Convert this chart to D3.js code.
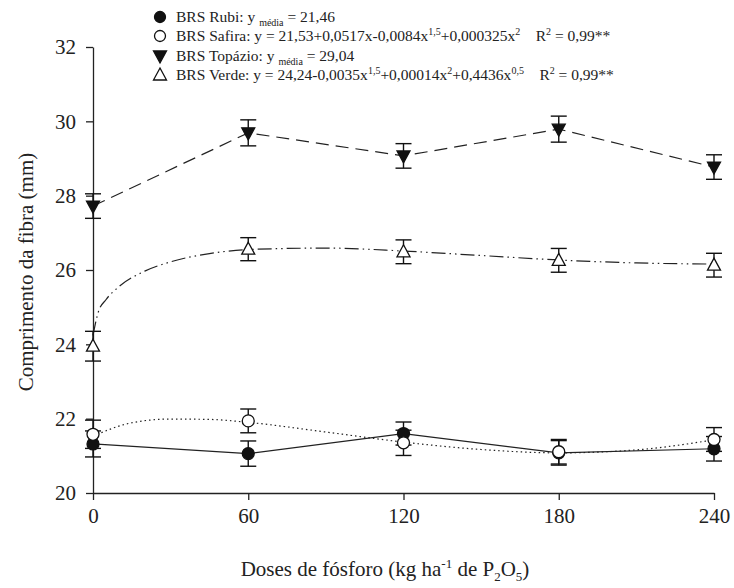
<!DOCTYPE html>
<html>
<head>
<meta charset="utf-8">
<script src="https://cdn.jsdelivr.net/npm/d3@7"></script>
</head>
<body style="margin:0">
<svg id="chart" width="734" height="588"></svg>
<script>
// doses de fosforo
var doses = [0, 60, 120, 180, 240];

// medias observadas
var rubi = [21.32, 21.06, 21.60, 21.08, 21.19];
var rubiErr = [0.35, 0.34, 0.31, 0.33, 0.33];
var safira = [21.58, 21.94, 21.35, 21.11, 21.44];
var safiraErr = [0.38, 0.32, 0.34, 0.33, 0.32];
var topazio = [27.72, 29.69, 29.07, 29.79, 28.77];
var topazioErr = [0.33, 0.35, 0.33, 0.35, 0.33];
var verde = [23.95, 26.56, 26.49, 26.26, 26.13];
var verdeErr = [0.4, 0.31, 0.32, 0.32, 0.32];

// curvas ajustadas
var safiraFitX = [0, 15, 30, 45, 60, 90, 120, 150, 180, 210, 240];
var safiraFit = [21.53, 21.89, 21.99, 21.98, 21.90, 21.64, 21.37, 21.17, 21.08, 21.16, 21.43];
var verdeFitX = [0, 2, 5, 10, 20, 30, 45, 60, 90, 120, 150, 180, 210, 240];
var verdeFit = [24.24, 24.86, 25.20, 25.55, 25.97, 26.22, 26.44, 26.55, 26.59, 26.51, 26.39, 26.27, 26.19, 26.16];

var xTicks = [0, 60, 120, 180, 240];
var yTicks = [20, 22, 24, 26, 28, 30, 32];

var FONT = "Liberation Serif";
var svg = d3.select("#chart");
var left = 93, right = 714, topY = 47, bottom = 493;

var x = d3.scaleLinear().domain([0, 240]).range([left, right]);
var y = d3.scaleLinear().domain([20, 32]).range([bottom, topY]);

// eixos
var xAxis = svg.append("g")
    .attr("transform", "translate(0," + bottom + ")")
    .call(d3.axisBottom(x).tickValues(xTicks).tickSize(7).tickPadding(8).tickSizeOuter(0));
var yAxis = svg.append("g")
    .attr("transform", "translate(" + left + ",0)")
    .call(d3.axisLeft(y).tickValues(yTicks).tickSize(7).tickPadding(10).tickSizeOuter(0));

[xAxis, yAxis].forEach(function (g) {
    g.attr("font-family", FONT).attr("font-size", 21);
    g.select(".domain").attr("stroke", "#222").attr("stroke-width", 1.3);
    g.selectAll(".tick line").attr("stroke", "#222").attr("stroke-width", 1.3);
    g.selectAll(".tick text").attr("fill", "#222");
});

// titulos
svg.append("text")
    .attr("transform", "translate(33,272) rotate(-90)")
    .attr("text-anchor", "middle")
    .attr("fill", "#222")
    .attr("font-size", 21)
    .text("Comprimento da fibra (mm)");

var xt = svg.append("text")
    .attr("x", 385)
    .attr("y", 576)
    .attr("text-anchor", "middle")
    .attr("fill", "#222")
    .attr("font-size", 21);
xt.append("tspan").text("Doses de fósforo (kg ha");
xt.append("tspan").attr("dy", -8).attr("font-size", 13).text("-1");
xt.append("tspan").attr("dy", 8).text(" de P");
xt.append("tspan").attr("dy", 5).attr("font-size", 13).text("2");
xt.append("tspan").attr("dy", -5).text("O");
xt.append("tspan").attr("dy", 5).attr("font-size", 13).text("5");
xt.append("tspan").attr("dy", -5).text(")");

// linhas
var pts = function (xs, ys) {
    return xs.map(function (d, i) { return [d, ys[i]]; });
};
var straight = d3.line()
    .x(function (d) { return x(d[0]); })
    .y(function (d) { return y(d[1]); });
var smooth = d3.line()
    .curve(d3.curveMonotoneX)
    .x(function (d) { return x(d[0]); })
    .y(function (d) { return y(d[1]); });

var lines = [
    { path: straight(pts(doses, rubi)), dash: null },
    { path: smooth(pts(safiraFitX, safiraFit)), dash: "1.5,3" },
    { path: straight(pts(doses, topazio)), dash: "13,7" },
    { path: smooth(pts(verdeFitX, verdeFit)), dash: "14,4,1.5,4,1.5,4" }
];
svg.selectAll("path.fit")
    .data(lines)
    .enter()
    .append("path")
    .attr("class", "fit")
    .attr("d", function (d) { return d.path; })
    .attr("fill", "none")
    .attr("stroke", "#222")
    .attr("stroke-width", 1.2)
    .attr("stroke-dasharray", function (d) { return d.dash; });

// series com barras de erro e marcadores
var series = [
    { vals: rubi, err: rubiErr, shape: "circle", fill: "#111" },
    { vals: safira, err: safiraErr, shape: "circle", fill: "white" },
    { vals: topazio, err: topazioErr, shape: "down", fill: "#111" },
    { vals: verde, err: verdeErr, shape: "up", fill: "white" }
];

function marker(g, shape, fill) {
    if (shape === "circle") {
        g.append("circle").attr("r", 6);
    } else {
        var s = shape === "up" ? 1 : -1;
        g.append("path").attr("d", "M0," + (-7 * s) + "L6.5," + (5 * s) + "L-6.5," + (5 * s) + "Z");
    }
    g.selectAll("circle, path")
        .attr("fill", fill)
        .attr("stroke", "#111")
        .attr("stroke-width", 1.3);
}

series.forEach(function (s) {
    var data = doses.map(function (d, i) { return { x: d, v: s.vals[i], e: s.err[i] }; });
    var eb = svg.append("g").selectAll("g")
        .data(data)
        .enter()
        .append("g")
        .attr("stroke", "#111")
        .attr("stroke-width", 1.4);
    eb.append("line")
        .attr("x1", function (d) { return x(d.x); })
        .attr("x2", function (d) { return x(d.x); })
        .attr("y1", function (d) { return y(d.v + d.e); })
        .attr("y2", function (d) { return y(d.v - d.e); });
    [1, -1].forEach(function (k) {
        eb.append("line")
            .attr("x1", function (d) { return x(d.x) - 8; })
            .attr("x2", function (d) { return x(d.x) + 8; })
            .attr("y1", function (d) { return y(d.v + k * d.e); })
            .attr("y2", function (d) { return y(d.v + k * d.e); });
    });
});

series.forEach(function (s) {
    doses.forEach(function (d, i) {
        var g = svg.append("g")
            .attr("transform", "translate(" + x(d) + "," + y(s.vals[i]) + ")");
        marker(g, s.shape, s.fill);
    });
});

// legenda
var rows = [
    { shape: "circle", fill: "#111", parts: [["BRS Rubi: y ", 0], ["média", 1], [" = 21,46", -1]] },
    { shape: "circle", fill: "white", parts: [["BRS Safira: y = 21,53+0,0517x-0,0084x", 0], ["1,5", 2], ["+0,000325x", -2], ["2", 2], ["\u00a0\u00a0\u00a0\u00a0R", -2], ["2", 2], [" = 0,99**", -2]] },
    { shape: "down", fill: "#111", parts: [["BRS Topázio: y ", 0], ["média", 1], [" = 29,04", -1]] },
    { shape: "up", fill: "white", parts: [["BRS Verde: y = 24,24-0,0035x", 0], ["1,5", 2], ["+0,00014x", -2], ["2", 2], ["+0,4436x", -2], ["0,5", 2], ["\u00a0\u00a0\u00a0\u00a0R", -2], ["2", 2], [" = 0,99**", -2]] }
];
var rowY = [17, 36, 56, 75];
rows.forEach(function (r, i) {
    var g = svg.append("g").attr("transform", "translate(160," + rowY[i] + ")");
    marker(g, r.shape, r.fill);
    g.selectAll("circle").attr("r", 5.5);
    var t = svg.append("text")
        .attr("x", 176)
        .attr("y", rowY[i] + 5)
        .attr("fill", "#222")
        .attr("font-size", 15.5);
    r.parts.forEach(function (p) {
        var ts = t.append("tspan").text(p[0]);
        if (p[1] === 1) ts.attr("dy", 4).attr("font-size", 10);
        if (p[1] === -1) ts.attr("dy", -4);
        if (p[1] === 2) ts.attr("dy", -6).attr("font-size", 10);
        if (p[1] === -2) ts.attr("dy", 6);
    });
});

// fonte serifada em todos os textos
svg.selectAll("text, tspan")
    .attr("font-family", FONT)
    .style("font-family", "'Liberation Serif', 'Times New Roman', serif", "important");
</script>
</body>
</html>
